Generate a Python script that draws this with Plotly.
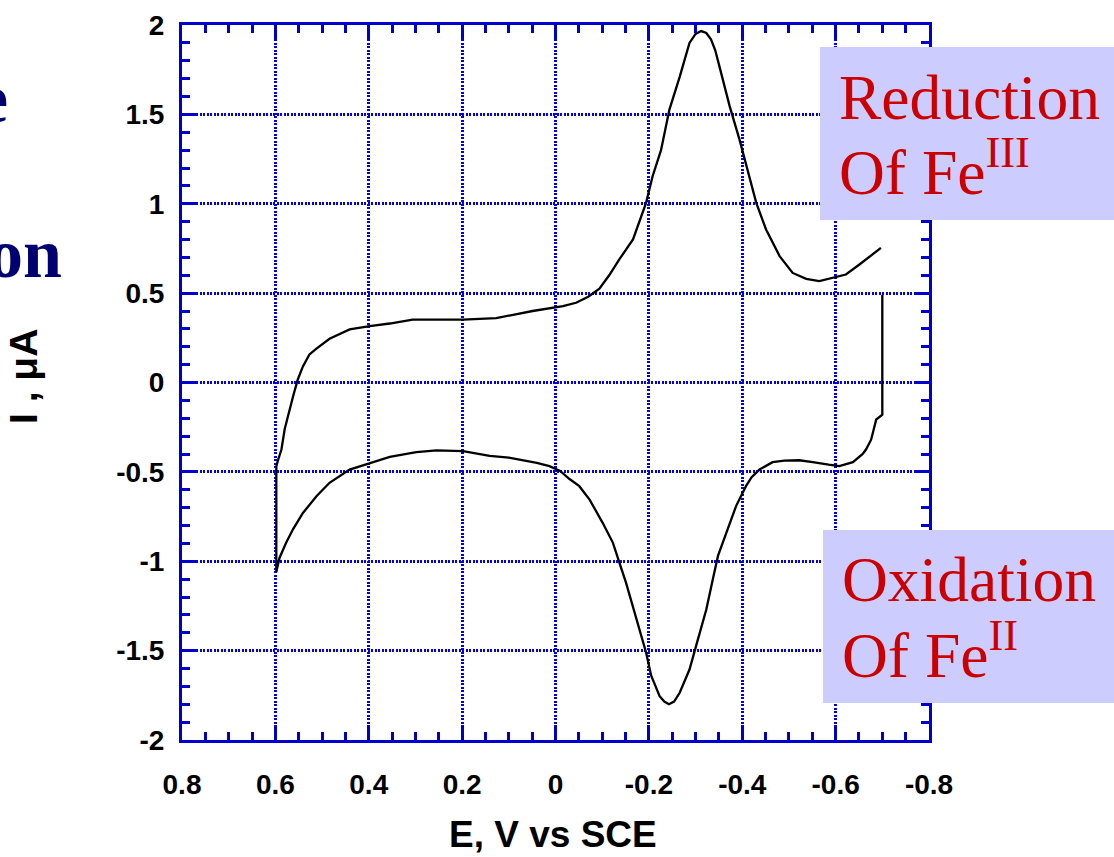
import plotly.graph_objects as go

# ---- data (E in V vs SCE, I in microamps), in scan order ----
E_V = [-0.700, -0.700, -0.687, -0.676, -0.665, -0.658, -0.637, -0.608, -0.585, -0.565,
       -0.551, -0.522, -0.490, -0.465, -0.437, -0.420, -0.408, -0.387, -0.366, -0.348,
       -0.337, -0.323, -0.301, -0.287, -0.266, -0.254, -0.243, -0.233, -0.223, -0.214,
       -0.205, -0.194, -0.180, -0.166, -0.151, -0.137, -0.123, -0.101, -0.073, -0.051,
       -0.030, -0.010, 0.013, 0.040, 0.070, 0.100, 0.141, 0.198, 0.255, 0.298,
       0.355, 0.398, 0.441, 0.484, 0.512, 0.541, 0.562, 0.577, 0.591, 0.598,
       0.598, 0.595, 0.587, 0.580, 0.570, 0.562, 0.552, 0.541, 0.527, 0.512,
       0.484, 0.441, 0.398, 0.355, 0.306, 0.250, 0.198, 0.127, 0.049, -0.016,
       -0.044, -0.070, -0.094, -0.115, -0.137, -0.166, -0.194, -0.208, -0.226, -0.244,
       -0.266, -0.287, -0.300, -0.312, -0.323, -0.333, -0.342, -0.351, -0.362, -0.373,
       -0.394, -0.412, -0.430, -0.451, -0.480, -0.508, -0.537, -0.565, -0.594, -0.622,
       -0.651, -0.675, -0.697]
I_uA = [0.490, -0.180, -0.207, -0.320, -0.375, -0.400, -0.446, -0.468, -0.460, -0.450,
        -0.446, -0.435, -0.437, -0.446, -0.487, -0.530, -0.580, -0.690, -0.840, -0.970,
        -1.100, -1.270, -1.475, -1.606, -1.736, -1.785, -1.800, -1.785, -1.755, -1.700,
        -1.640, -1.510, -1.380, -1.250, -1.120, -1.009, -0.897, -0.785, -0.655, -0.580,
        -0.540, -0.495, -0.468, -0.450, -0.435, -0.420, -0.410, -0.384, -0.380, -0.390,
        -0.416, -0.450, -0.487, -0.561, -0.636, -0.730, -0.820, -0.897, -0.980, -1.060,
        -0.470, -0.440, -0.375, -0.260, -0.150, -0.077, 0.017, 0.090, 0.157, 0.190,
        0.245, 0.297, 0.315, 0.330, 0.352, 0.352, 0.352, 0.360, 0.400, 0.427,
        0.446, 0.480, 0.525, 0.600, 0.690, 0.800, 1.005, 1.154, 1.300, 1.527,
        1.710, 1.900, 1.950, 1.966, 1.955, 1.920, 1.860, 1.770, 1.660, 1.546,
        1.360, 1.190, 1.005, 0.856, 0.707, 0.613, 0.580, 0.567, 0.586, 0.604,
        0.660, 0.710, 0.753]

x_tickvals = [0.8, 0.6, 0.4, 0.2, 0, -0.2, -0.4, -0.6, -0.8]
x_ticktext = ["0.8", "0.6", "0.4", "0.2", "0", "-0.2", "-0.4", "-0.6", "-0.8"]
y_tickvals = [2, 1.5, 1, 0.5, 0, -0.5, -1, -1.5, -2]
y_ticktext = ["2", "1.5", "1", "0.5", "0", "-0.5", "-1", "-1.5", "-2"]

x_title = "E, V vs SCE"
y_title = "I , μA"
red_line1 = "Reduction"
red_line2 = "Of Fe<sup>III</sup>"
ox_line1 = "Oxidation"
ox_line2 = "Of Fe<sup>II</sup>"

# ---- layout geometry (pixels) ----
W, H = 1114, 857
L, R, T, B = 182, 929, 25, 740


def px(xp):
    return (xp - L) / (R - L)


def py(yp):
    return (B - yp) / (B - T)


BLUE = "#0000CC"
GRID = "#0000ee"
tickfont = dict(family="Liberation Sans, Arial, sans-serif",
                size=28, color="black", weight="bold")

fig = go.Figure()
fig.add_trace(go.Scatter(x=E_V, y=I_uA, mode="lines",
                         line=dict(color="black", width=2.3),
                         showlegend=False, hoverinfo="skip"))

axis_common = dict(
    showline=True, linecolor=BLUE, linewidth=3, mirror="allticks",
    ticks="inside", ticklen=14, tickwidth=3, tickcolor=BLUE,
    showgrid=True, gridcolor=GRID, gridwidth=2.5, griddash="2px,1.5px",
    zeroline=False, tickfont=tickfont,
)

fig.update_xaxes(range=[0.8, -0.8], tickmode="array", tickvals=x_tickvals,
                 ticktext=x_ticktext, ticklabelstandoff=17,
                 minor=dict(ticks="inside", ticklen=8, tickwidth=2.5, tickcolor=BLUE,
                            dtick=0.05, showgrid=False),
                 **axis_common)
fig.update_yaxes(range=[-2, 2], tickmode="array", tickvals=y_tickvals,
                 ticktext=y_ticktext, ticklabelstandoff=9,
                 minor=dict(ticks="inside", ticklen=8, tickwidth=2.5, tickcolor=BLUE,
                            dtick=0.1, showgrid=False),
                 **axis_common)

shapes = [
    dict(type="rect", xref="paper", yref="paper", x0=px(820), x1=px(1114),
         y0=py(220), y1=py(47), fillcolor="#ccccff", line=dict(width=0), layer="above"),
    dict(type="rect", xref="paper", yref="paper", x0=px(823), x1=px(1114),
         y0=py(703), y1=py(530), fillcolor="#ccccff", line=dict(width=0), layer="above"),
]

serif_red = dict(family="Liberation Serif, Times New Roman, serif", size=63.5, color="#cc0000")
navy = dict(family="Liberation Serif, Times New Roman, serif", size=70, color="#000070", weight="bold")
title_font = dict(family="Liberation Sans, Arial, sans-serif", size=37, color="black", weight="bold")
ytitle_font = dict(family="Liberation Sans, Arial, sans-serif", size=39, color="black", weight="bold")


def ann(text, x, y, font, xanchor="left", yanchor="bottom", textangle=0):
    return dict(text=text, x=px(x), y=py(y), xref="paper", yref="paper",
                xanchor=xanchor, yanchor=yanchor, showarrow=False, font=font,
                textangle=textangle, borderpad=0, borderwidth=0)


annotations = [
    ann(red_line1, 839, 133, serif_red),
    ann(red_line2, 839, 208, serif_red),
    ann(ox_line1, 842, 615, serif_red),
    ann(ox_line2, 842, 691, serif_red),
    ann("e", 8, 137, navy, xanchor="right"),
    ann("on", 62, 292, navy, xanchor="right"),
    ann(x_title, 553, 834, title_font, xanchor="center", yanchor="middle"),
    ann(y_title, 23, 377, ytitle_font, xanchor="center", yanchor="middle", textangle=-90),
]

fig.update_layout(
    width=W, height=H,
    margin=dict(l=L, r=W - R, t=T, b=H - B, autoexpand=False),
    paper_bgcolor="white", plot_bgcolor="white",
    shapes=shapes, annotations=annotations, showlegend=False,
)

fig.write_html("out.html")
